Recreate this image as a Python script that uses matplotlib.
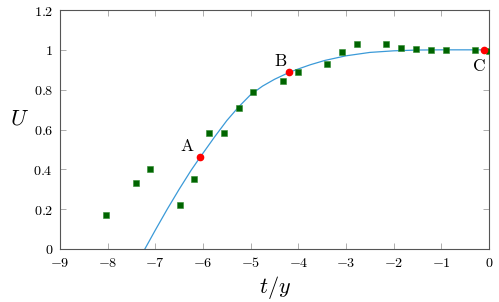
import matplotlib
matplotlib.use('Agg')
import matplotlib.pyplot as plt

plt.rcParams['mathtext.fontset'] = 'cm'
plt.rcParams['font.family'] = 'serif'
plt.rcParams['font.serif'] = ['DejaVu Serif']

# measured points (green squares)
meas_x = [-8.04, -7.41, -7.11, -6.48, -6.19, -5.88, -5.56, -5.25, -4.95,
          -4.32, -4.0, -3.39, -3.08, -2.77, -2.17, -1.84, -1.54, -1.22,
          -0.91, -0.30, -0.01]
meas_y = [0.17, 0.33, 0.40, 0.22, 0.35, 0.58, 0.58, 0.71, 0.79,
          0.846, 0.89, 0.93, 0.99, 1.03, 1.03, 1.01, 1.005, 0.997,
          0.997, 0.997, 0.993]

# fitted curve (blue)
fit_x = [-7.22, -7.0, -6.75, -6.5, -6.25, -6.06, -5.75, -5.5, -5.25, -5.0,
         -4.75, -4.5, -4.19, -4.0, -3.75, -3.44, -3.0, -2.5, -2.0, -1.5,
         -1.0, -0.5, 0.0]
fit_y = [0.0, 0.095, 0.20, 0.30, 0.395, 0.461, 0.565, 0.645, 0.714, 0.775,
         0.818, 0.852, 0.887, 0.904, 0.925, 0.947, 0.970, 0.987, 0.995, 0.999,
         1.0, 1.0, 1.0]

# marked points
pt_names = ['A', 'B', 'C']
pt_x = [-6.06, -4.19, -0.11]
pt_y = [0.461, 0.887, 1.0]
pt_offs = [(-13, 11), (-9, 11), (-5, -17)]

xticks = list(range(-9, 1))
yticks = [0, 0.2, 0.4, 0.6, 0.8, 1, 1.2]
ytick_labels = ['0', '0.2', '0.4', '0.6', '0.8', '1', '1.2']

fig = plt.figure(figsize=(4.99, 3.02), dpi=100)
ax = fig.add_axes([60 / 499, 1 - 249 / 302, 429 / 499, 239 / 302])

ax.plot(fit_x, fit_y, color='#3b9ad8', lw=0.9, zorder=2)
ax.plot(meas_x, meas_y, 's', color='#006400', ms=4.4, mec='#2e8b2e', mew=0.4,
        zorder=3)
ax.plot(pt_x, pt_y, 'o', color='red', ms=4.5, mec='red', zorder=4)
for name, x, y, off in zip(pt_names, pt_x, pt_y, pt_offs):
    ax.annotate(r'$\mathrm{' + name + '}$', (x, y), xytext=off,
                textcoords='offset pixels', ha='center', va='center',
                fontsize=12.5)

ax.set_xlim(-9, 0)
ax.set_ylim(0, 1.2)
ax.set_xticks(xticks)
ax.set_xticklabels([r'$%d$' % t for t in xticks])
ax.set_yticks(yticks)
ax.set_yticklabels([r'$%s$' % s for s in ytick_labels])
ax.tick_params(direction='in', top=True, right=True, length=4, width=0.6,
               color='#a0a0a0', labelsize=10.2)
ax.tick_params(axis='x', pad=5)
ax.tick_params(axis='y', pad=5)
for sp in ax.spines.values():
    sp.set_color('#555555')
    sp.set_linewidth(0.8)

ax.set_xlabel(r'$t/y$', fontsize=16, labelpad=3)
ax.set_ylabel(r'$U$', fontsize=16, rotation=0, labelpad=0)
ax.yaxis.set_label_coords(-0.095, 0.5)

fig.savefig('out.png', dpi=100)
